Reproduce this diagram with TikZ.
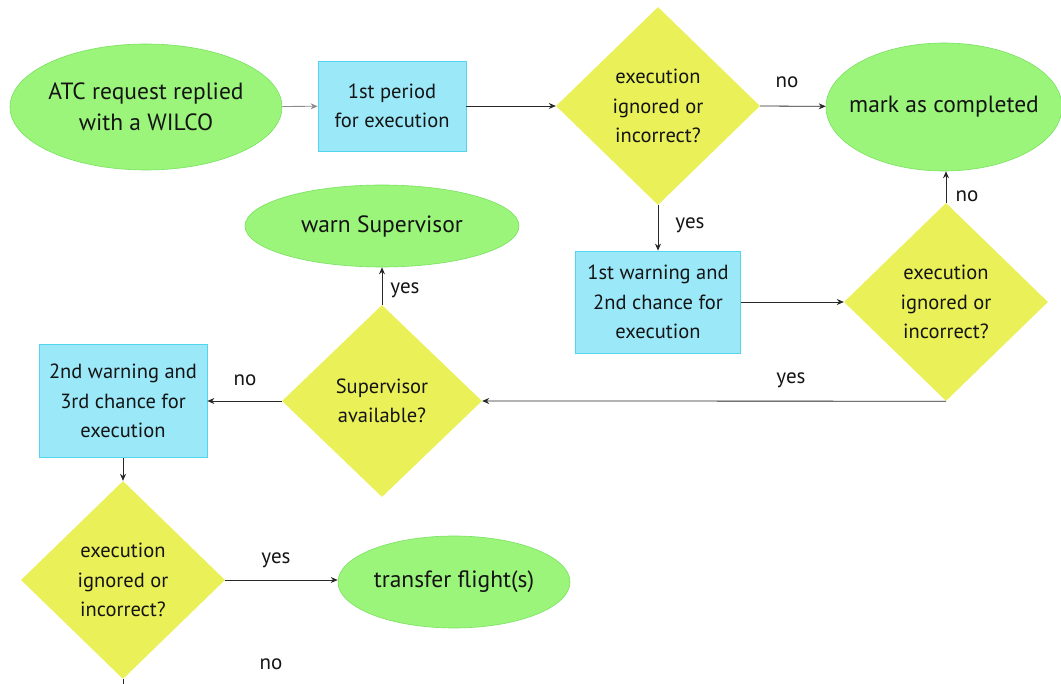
\documentclass[tikz,border=0pt]{standalone}
\usepackage{fontspec}
\setmainfont{PT Sans}
\usetikzlibrary{shapes.geometric,arrows.meta}
\definecolor{termfill}{RGB}{155,245,122}
\definecolor{termline}{RGB}{120,225,95}
\definecolor{decfill}{RGB}{234,240,88}
\definecolor{procfill}{RGB}{155,232,248}
\definecolor{procline}{RGB}{85,212,240}
\definecolor{linkgray}{RGB}{40,40,40}
\begin{document}
\begin{tikzpicture}[x=1pt,y=1pt,
  every node/.style={font=\fontsize{20.5}{29.5}\selectfont, text=black!92, align=center, inner sep=0pt},
  % terminal ellipses keep their given size; the caption sits on top as a centred label
  term/.style={ellipse, fill=termfill, draw=termline, line width=0.6pt},
  termtext/.style={font=\fontsize{23.5}{31}\selectfont, align=center, inner sep=0pt},
  decision/.style={diamond, fill=decfill, minimum width=204pt, minimum height=198pt},
  process/.style={rectangle, fill=procfill, draw=procline, line width=0.8pt},
  link/.style={draw=linkgray, line width=0.8pt, -{Stealth[length=7pt,width=6pt]}},
  plain/.style={draw=linkgray, line width=0.8pt},
  tag/.style={font=\fontsize{21}{24}\selectfont}
]
\useasboundingbox (0,0) rectangle (1061,-684);

% nodes
\node[term, minimum width=272pt, minimum height=126pt,
      label={[termtext]center:ATC request replied\\with a WILCO}] (start) at (146,-107) {};
\node[process, minimum width=148pt, minimum height=90pt] (p1) at (392,-106) {1st period\\for execution};
\node[decision] (d1) at (658,-106) {execution\\ignored or\\incorrect?};
\node[term, minimum width=236pt, minimum height=128pt,
      label={[termtext]center:mark as completed}] (done) at (944,-107) {};
\node[process, minimum width=165pt, minimum height=102pt] (p2) at (658,-302) {1st warning and\\2nd chance for\\execution};
\node[decision, minimum height=198pt] (d2) at (946,-302) {execution\\ignored or\\incorrect?};
\node[term, minimum width=274pt, minimum height=82pt,
      label={[termtext]center:warn Supervisor}] (warn) at (382,-226) {};
\node[decision, minimum width=200pt, minimum height=192pt] (sup) at (382,-401) {Supervisor\\available?};
\node[process, minimum width=168pt, minimum height=113pt] (p3) at (123,-401) {2nd warning and\\3rd chance for\\execution};
\node[decision] (d3) at (123,-580) {execution\\ignored or\\incorrect?};
\node[term, minimum width=232pt, minimum height=92pt,
      label={[termtext]center:transfer flight(s)}] (xfer) at (454,-582) {};
\coordinate (tail) at (123,-684);

% branch labels
\node[tag] (l1) at (787,-82) {no};
\node[tag] (l2) at (690,-225) {yes};
\node[tag] (l3) at (967,-196) {no};
\node[tag] (l4) at (791,-380) {yes};
\node[tag] (l5) at (405,-290) {yes};
\node[tag] (l6) at (245,-380) {no};
\node[tag] (l7) at (276,-560) {yes};
\node[tag] (l8) at (271,-664) {no};

% connectors
\draw[link, draw=black!45] (start) -- (p1);
\draw[link] (p1) -- (d1.west);
\draw[link] (d1.east) -- (done);
\draw[link] (d1.south) -- (p2.north);
\draw[link] (p2) -- (d2.west);
\draw[link] (d2.north) -- (d2.north |- done.south);
\draw[link] (d2.south) -- (sup.east);
\draw[link] (sup.north) -- (warn.south);
\draw[link] (sup.west) -- (p3.east);
\draw[link] (p3.south) -- (d3.north);
\draw[link] (d3.east) -- (d3.east -| xfer.west);
\draw[plain] (d3.south) -- (tail);
\end{tikzpicture}
\end{document}
